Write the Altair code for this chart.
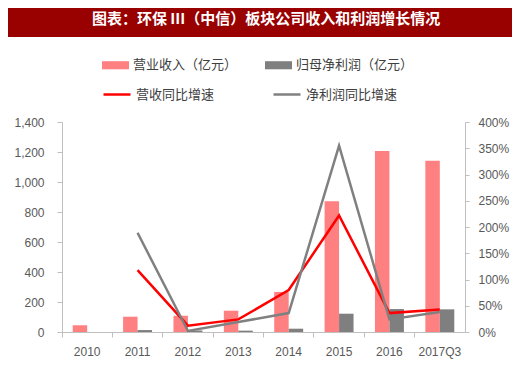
import altair as alt
import pandas as pd

title = "图表：环保 III（中信）板块公司收入和利润增长情况"
years = ["2010", "2011", "2012", "2013", "2014", "2015", "2016", "2017Q3"]
revenue = [45, 102, 109, 142, 267, 871, 1207, 1142]
net_profit = [None, 13, 10, 9, 22, 122, 153, 151]
rev_growth = [None, 118, 12, 24, 80, 222, 36, 43]
np_growth = [None, 189, 2, 19, 36, 355, 24, 38]

bar_names = ["营业收入（亿元）", "归母净利润（亿元）"]
line_names = ["营收同比增速", "净利润同比增速"]
left_ticks = [0, 200, 400, 600, 800, 1000, 1200, 1400]
right_ticks = [0, 0.5, 1.0, 1.5, 2.0, 2.5, 3.0, 3.5, 4.0]

bar_rows = []
for y, r, p in zip(years, revenue, net_profit):
    bar_rows.append({"year": y, "series": bar_names[0], "value": r})
    if p is not None:
        bar_rows.append({"year": y, "series": bar_names[1], "value": p})
bars_df = pd.DataFrame(bar_rows)

line_rows = []
for name, vals in zip(line_names, [rev_growth, np_growth]):
    for y, v in zip(years, vals):
        if v is not None:
            line_rows.append({"year": y, "series": name, "growth": v / 100})
lines_df = pd.DataFrame(line_rows)

PW, PH = 403, 210
AXIS_GRAY = "#bfbfbf"
LABEL_GRAY = "#595959"
LABEL_FONT = "Liberation Sans"
CJK = "Noto Sans CJK SC"

xscale = alt.Scale(domain=years, paddingInner=0, paddingOuter=0)

x_axis = alt.Axis(
    title=None, bandPosition=0, tickSize=5, tickColor=AXIS_GRAY,
    domainColor=AXIS_GRAY, labelPadding=9,
    labelColor=LABEL_GRAY, labelFont=LABEL_FONT, labelFontSize=12,
    labelAngle=0, grid=False,
)

bars = alt.Chart(bars_df).mark_bar().encode(
    x=alt.X("year:N", scale=xscale, axis=x_axis, sort=years),
    xOffset=alt.XOffset("series:N", scale=alt.Scale(domain=bar_names, paddingInner=0, paddingOuter=0.74)),
    y=alt.Y(
        "value:Q",
        scale=alt.Scale(domain=[0, 1400], nice=False),
        axis=alt.Axis(
            title=None, values=left_ticks, format=",.0f", grid=False,
            tickSize=5, tickColor=AXIS_GRAY, domainColor=AXIS_GRAY,
            labelPadding=13, labelColor=LABEL_GRAY, labelFont=LABEL_FONT,
            labelFontSize=12,
        ),
    ),
    color=alt.Color(
        "series:N",
        scale=alt.Scale(domain=bar_names, range=["#FF8080", "#7F7F7F"]),
        legend=alt.Legend(
            title=None, orient="none", legendX=40, legendY=-70.5,
            direction="horizontal", columns=2, columnPadding=27,
            symbolType="M-1,-0.3L1,-0.3L1,0.3L-1,0.3Z", symbolSize=729,
            symbolStrokeWidth=0, labelOffset=4, labelFont=CJK,
            labelFontSize=13, labelColor="#404040", padding=0,
        ),
    ),
)

lines = alt.Chart(lines_df).mark_line(strokeWidth=2.5).encode(
    x=alt.X("year:N", scale=xscale, axis=x_axis, sort=years),
    y=alt.Y(
        "growth:Q",
        scale=alt.Scale(domain=[0, 4], nice=False),
        axis=alt.Axis(
            title=None, orient="right", values=right_ticks, format=".0%",
            grid=False, tickSize=4, tickColor=AXIS_GRAY, domainColor=AXIS_GRAY,
            labelPadding=9, labelColor=LABEL_GRAY, labelFont=LABEL_FONT,
            labelFontSize=12,
        ),
    ),
    color=alt.Color(
        "series:N",
        scale=alt.Scale(domain=line_names, range=["#FF0000", "#808080"]),
        legend=alt.Legend(
            title=None, orient="none", legendX=40, legendY=-42.5,
            direction="horizontal", columns=2, columnPadding=53,
            symbolType="stroke", symbolSize=729, symbolStrokeWidth=2.5,
            labelOffset=4, labelFont=CJK, labelFontSize=13,
            labelColor="#404040", padding=0,
        ),
    ),
    order=alt.value(0),
)

banner_df = pd.DataFrame({"t": [title]})
banner = alt.Chart(banner_df).mark_rect(color="#990000").encode(
    x=alt.value(-54), x2=alt.value(PW + 47), y=alt.value(-114), y2=alt.value(-85)
)
banner_text = alt.Chart(banner_df).mark_text(
    color="white", font=CJK, fontSize=15, fontWeight="bold",
    align="center", baseline="middle",
).encode(text="t:N", x=alt.value(204), y=alt.value(-103))

chart = (
    alt.layer(bars, lines, banner, banner_text)
    .resolve_scale(y="independent", color="independent")
    .properties(
        width=PW, height=PH,
        autosize=alt.AutoSizeParams(type="none"),
        padding={"left": 54, "top": 114, "right": 47, "bottom": 36},
        background="white",
    )
    .configure_view(stroke=None)
)

chart.save("out.html", embed_options={"renderer": "svg", "actions": False})
